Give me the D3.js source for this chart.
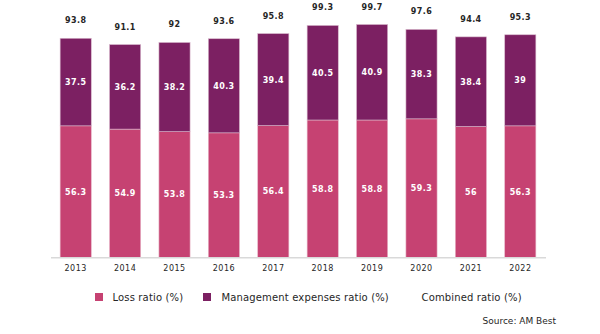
<!DOCTYPE html>
<html>
<head>
<meta charset="utf-8">
<script src="https://cdn.jsdelivr.net/npm/d3@7"></script>
<style>
  body { margin: 0; background: #fff; }
  svg { display: block; font-family: "DejaVu Sans", sans-serif; }
</style>
</head>
<body>
<svg id="chart" width="600" height="334"></svg>
<script>
const years = ['2013', '2014', '2015', '2016', '2017', '2018', '2019', '2020', '2021', '2022'];
const lossRatio = [56.3, 54.9, 53.8, 53.3, 56.4, 58.8, 58.8, 59.3, 56, 56.3];
const mgmtRatio = [37.5, 36.2, 38.2, 40.3, 39.4, 40.5, 40.9, 38.3, 38.4, 39];
const combinedRatio = [93.8, 91.1, 92, 93.6, 95.8, 99.3, 99.7, 97.6, 94.4, 95.3];
const seriesNames = ['Loss ratio (%)', 'Management expenses ratio (%)', 'Combined ratio (%)'];

const pink = '#c64272', purple = '#7c2062';

const svg = d3.select('#chart');

const x = d3.scaleBand().domain(years).range([51, 545]).paddingInner(0.37).paddingOuter(0.185);
const y = d3.scaleLinear().domain([0, 100]).range([257.3, 23.8]);

const data = years.map(function (yr, i) {
  return {year: yr, loss: lossRatio[i], mgmt: mgmtRatio[i], combined: combinedRatio[i]};
});

const g = svg.append('g');

// loss ratio
g.selectAll('.loss').data(data).enter().append('rect')
  .attr('x', d => x(d.year))
  .attr('width', x.bandwidth())
  .attr('y', d => y(d.loss))
  .attr('height', d => y(0) - y(d.loss))
  .attr('fill', pink)
  .attr('stroke', '#e6b3c6').attr('stroke-width', 0.6);

// management expenses ratio
g.selectAll('.mgmt').data(data).enter().append('rect')
  .attr('x', d => x(d.year))
  .attr('width', x.bandwidth())
  .attr('y', d => y(d.loss + d.mgmt))
  .attr('height', d => y(d.loss) - y(d.loss + d.mgmt))
  .attr('fill', purple)
  .attr('stroke', '#d8b8cc').attr('stroke-width', 0.6);

// axis line
svg.append('line')
  .attr('x1', 51).attr('x2', 546)
  .attr('y1', y(0) + 0.5).attr('y2', y(0) + 0.5)
  .attr('stroke', '#d9d9d9').attr('stroke-width', 1.5);

// year labels
const xAxis = svg.append('g')
  .attr('transform', 'translate(0,' + (y(0) + 2) + ')')
  .call(d3.axisBottom(x).tickSize(0).tickPadding(6));
xAxis.select('.domain').remove();
xAxis.selectAll('text')
  .attr('font-family', '"DejaVu Sans", sans-serif')
  .attr('font-size', 8).attr('fill', '#262626')
  .attr('letter-spacing', 0.5);

// labels in segments
g.selectAll('.lossLbl').data(data).enter().append('text')
  .attr('x', d => x(d.year) + x.bandwidth() / 2)
  .attr('y', d => (y(0) + y(d.loss)) / 2 + 3)
  .attr('text-anchor', 'middle')
  .attr('font-size', 8).attr('font-weight', 'bold').attr('fill', '#fff')
  .attr('letter-spacing', 0.4)
  .text(d => d.loss);

g.selectAll('.mgmtLbl').data(data).enter().append('text')
  .attr('x', d => x(d.year) + x.bandwidth() / 2)
  .attr('y', d => (y(d.loss) + y(d.loss + d.mgmt)) / 2 + 3)
  .attr('text-anchor', 'middle')
  .attr('font-size', 8).attr('font-weight', 'bold').attr('fill', '#fff')
  .attr('letter-spacing', 0.4)
  .text(d => d.mgmt);

// combined ratio above the bars
g.selectAll('.combLbl').data(data).enter().append('text')
  .attr('x', d => x(d.year) + x.bandwidth() / 2)
  .attr('y', d => y(d.combined) - 15)
  .attr('text-anchor', 'middle')
  .attr('font-size', 8).attr('font-weight', 'bold').attr('fill', '#262626')
  .attr('letter-spacing', 0.4)
  .text(d => d.combined);

// legend
const legend = svg.append('g').attr('font-size', 10).attr('fill', '#262626').attr('letter-spacing', 0.15);
const legendItems = [
  {name: seriesNames[0], color: pink, sx: 95, tx: 112.5},
  {name: seriesNames[1], color: purple, sx: 203, tx: 221.5},
  {name: seriesNames[2], color: null, sx: 0, tx: 421.5}
];
legendItems.forEach(function (it) {
  if (it.color) {
    legend.append('rect')
      .attr('x', it.sx).attr('y', 293)
      .attr('width', 8).attr('height', 8)
      .attr('fill', it.color);
  }
  legend.append('text')
    .attr('x', it.tx).attr('y', 300.8)
    .text(it.name);
});

svg.append('text')
  .attr('x', 556).attr('y', 324)
  .attr('text-anchor', 'end')
  .attr('font-size', 9).attr('fill', '#262626')
  .text('Source: AM Best');
</script>
</body>
</html>
